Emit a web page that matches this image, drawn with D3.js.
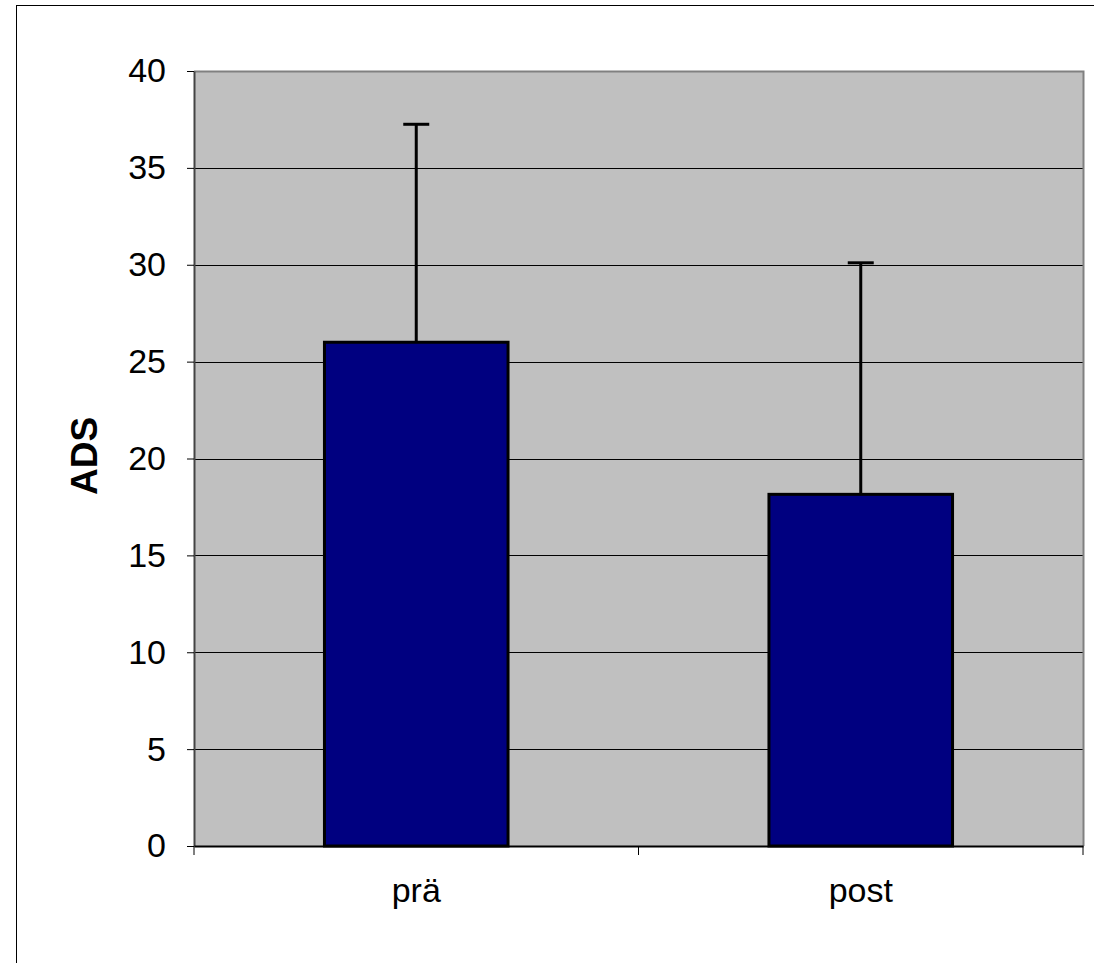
<!DOCTYPE html>
<html><head><meta charset="utf-8">
<script src="https://cdn.jsdelivr.net/npm/d3@7"></script>
<style>body{margin:0;background:#fff}svg{display:block}</style>
</head><body>
<script>
const categories = ["prä", "post"];
const means = [26.0, 18.15];
const errors = [11.25, 11.95];
const yTicks = [0, 5, 10, 15, 20, 25, 30, 35, 40];
const yLabel = "ADS";

const W = 1094, H = 963;
const svg = d3.select("body").append("svg").attr("width", W).attr("height", H);
svg.append("rect").attr("x", 16.5).attr("y", 5.5).attr("width", W + 10).attr("height", H + 10)
  .attr("fill", "#fff").attr("stroke", "#000").attr("stroke-width", 1);

const m = {l: 194, t: 71, r: 1083, b: 846};
const x = d3.scaleBand().domain(categories).range([m.l, m.r]).padding(0);
const y = d3.scaleLinear().domain([0, 40]).range([m.b, m.t]);
const barW = x.bandwidth() * 0.413;

svg.append("rect").attr("x", m.l).attr("y", m.t).attr("width", m.r - m.l).attr("height", m.b - m.t)
  .attr("fill", "#c0c0c0");

// gridlines
svg.append("g").selectAll("line").data(yTicks.filter(d => d > 0 && d < 40)).join("line")
  .attr("x1", m.l).attr("x2", m.r).attr("y1", d => Math.round(y(d)) + 0.5).attr("y2", d => Math.round(y(d)) + 0.5)
  .attr("stroke", "#000").attr("stroke-width", 1);

// plot border top/right
svg.append("path").attr("d", `M${m.l},${m.t + 0.5}H${m.r + 0.5}V${m.b}`)
  .attr("fill", "none").attr("stroke", "#808080").attr("stroke-width", 2);

// bars
svg.append("g").selectAll("rect").data(categories).join("rect")
  .attr("x", d => x(d) + x.bandwidth() / 2 - barW / 2)
  .attr("y", (d, i) => y(means[i]))
  .attr("width", barW)
  .attr("height", (d, i) => y(0) - y(means[i]))
  .attr("fill", "#000080").attr("stroke", "#000").attr("stroke-width", 3);

// error bars
const eg = svg.append("g").attr("stroke", "#000").attr("stroke-width", 3);
categories.forEach((c, i) => {
  const cx = x(c) + x.bandwidth() / 2;
  eg.append("line").attr("x1", cx).attr("x2", cx).attr("y1", y(means[i])).attr("y2", y(means[i] + errors[i]));
  eg.append("line").attr("x1", cx - 13).attr("x2", cx + 13).attr("y1", y(means[i] + errors[i])).attr("y2", y(means[i] + errors[i]));
});

// y axis
const ya = svg.append("g").attr("transform", `translate(${m.l},0)`)
  .call(d3.axisLeft(y).tickValues(yTicks).tickSize(7).tickPadding(21).tickSizeOuter(0));
ya.select(".domain").attr("stroke", "#444").attr("stroke-width", 2);
ya.selectAll(".tick line").attr("stroke", "#000");
ya.selectAll("text").attr("font-family", "Liberation Sans, Arial, sans-serif").attr("font-size", 34).attr("fill", "#000");

// x axis
const xa = svg.append("g").attr("transform", `translate(0,${m.b})`)
  .call(d3.axisBottom(x).tickSize(0).tickPadding(32).tickSizeOuter(0));
xa.select(".domain").attr("stroke", "#000").attr("stroke-width", 2);
xa.selectAll("text").attr("font-family", "Liberation Sans, Arial, sans-serif").attr("font-size", 34).attr("fill", "#000");
// category boundary ticks
const bounds = [m.l, x("post"), m.r];
svg.append("g").selectAll("line").data(bounds).join("line")
  .attr("x1", d => d).attr("x2", d => d).attr("y1", m.b).attr("y2", m.b + 9)
  .attr("stroke", "#000").attr("stroke-width", 1);

svg.append("text").attr("transform", `translate(97,456) rotate(-90)`)
  .attr("text-anchor", "middle").attr("font-family", "Liberation Sans, Arial, sans-serif")
  .attr("font-size", 37).attr("font-weight", "bold").text(yLabel);
</script>
</body></html>
